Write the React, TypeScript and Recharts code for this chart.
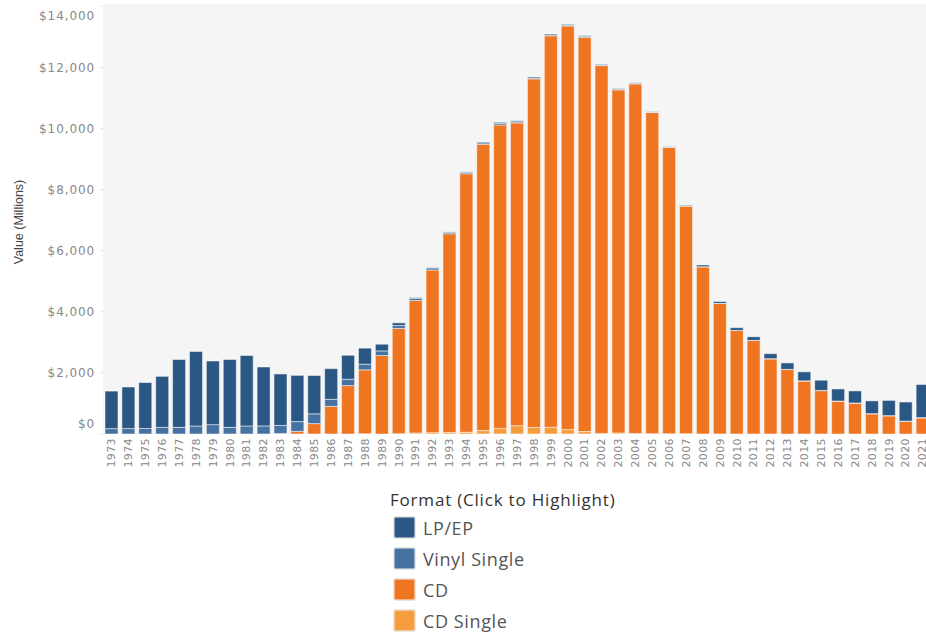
import React from 'react';
import { BarChart, Bar, XAxis, YAxis, CartesianGrid } from 'recharts';

const years = [
  '1973', '1974', '1975', '1976', '1977', '1978', '1979', '1980', '1981', '1982',
  '1983', '1984', '1985', '1986', '1987', '1988', '1989', '1990', '1991', '1992',
  '1993', '1994', '1995', '1996', '1997', '1998', '1999', '2000', '2001', '2002',
  '2003', '2004', '2005', '2006', '2007', '2008', '2009', '2010', '2011', '2012',
  '2013', '2014', '2015', '2016', '2017', '2018', '2019', '2020', '2021',
];

// values in millions of dollars
const lpEp = [
  1230, 1360, 1505, 1670, 2220, 2440, 2085, 2220, 2305, 1930,
  1685, 1515, 1255, 1005, 785, 527, 220, 87, 29, 14,
  11, 18, 25, 37, 33, 34, 32, 28, 27, 21,
  22, 19, 14, 16, 23, 57, 60, 89, 119, 164,
  211, 295, 335, 395, 395, 419, 498, 626, 1085,
];

const vinylSingle = [
  175, 178, 180, 218, 218, 262, 306, 218, 264, 264,
  264, 320, 320, 230, 208, 185, 150, 94, 64, 66,
  51, 47, 47, 48, 36, 26, 28, 26, 31, 25,
  22, 20, 13, 12, 4, 3, 3, 2, 5, 6,
  6, 6, 6, 5, 6, 6, 7, 6, 9,
];

const cd = [
  0, 0, 0, 0, 0, 0, 0, 0, 0, 0,
  17, 85, 340, 905, 1585, 2090, 2570, 3452, 4338, 5327,
  6511, 8465, 9377, 9935, 9915, 11416, 12816, 13215, 12909, 12044,
  11233, 11447, 10520, 9373, 7452, 5471, 4274, 3389, 3060, 2460,
  2110, 1735, 1420, 1075, 1010, 660, 595, 415, 527,
];

const cdSingle = [
  0, 0, 0, 0, 0, 0, 0, 0, 0, 0,
  0, 0, 0, 0, 0, 10, 0, 6, 35, 45,
  46, 56, 111, 184, 273, 213, 222, 143, 79, 20,
  36, 15, 11, 8, 12, 3, 3, 1, 0, 0,
  0, 0, 0, 0, 0, 0, 0, 0, 0,
];

const yTicks = [0, 2000, 4000, 6000, 8000, 10000, 12000, 14000];

const formats = [
  { key: 'lpEp', name: 'LP/EP', color: '#2a5783' },
  { key: 'vinylSingle', name: 'Vinyl Single', color: '#4572a1' },
  { key: 'cd', name: 'CD', color: '#ef7521' },
  { key: 'cdSingle', name: 'CD Single', color: '#f59d3d' },
];

const data = years.map((year, i) => ({
  year,
  lpEp: lpEp[i],
  vinylSingle: vinylSingle[i],
  cd: cd[i],
  cdSingle: cdSingle[i],
}));

const colorOf = (key: string) => formats.find((f) => f.key === key)!.color;

const tickFont = '"DejaVu Sans", sans-serif';

function YTick(props: any) {
  const { x, y, payload } = props;
  let dy = 4;
  if (payload.value === 0) dy = -6.5;
  if (payload.value === 14000) dy = 11;
  return (
    <text
      x={x}
      y={y}
      dy={dy}
      textAnchor="end"
      fill="#888"
      fontSize={12}
      fontFamily={tickFont}
      letterSpacing={0.9}
    >
      {'$' + payload.value.toLocaleString('en-US')}
    </text>
  );
}

function XTick(props: any) {
  const { x, y, payload } = props;
  return (
    <text
      x={x}
      y={y}
      dy="0.35em"
      transform={`rotate(-90 ${x} ${y})`}
      textAnchor="end"
      fill="#888"
      fontSize={11}
      fontFamily={tickFont}
      letterSpacing={0.4}
    >
      {payload.value}
    </text>
  );
}

export default function App() {
  const barStroke = 'rgba(255,255,255,0.5)';
  return (
    <div
      style={{
        position: 'fixed',
        left: 0,
        top: 0,
        width: 926,
        height: 633,
        overflow: 'hidden',
        background: '#fff',
      }}
    >
      <BarChart
        width={931}
        height={500}
        data={data}
        margin={{ top: 4, right: 0, left: 8, bottom: 0 }}
        barSize={13}
      >
        <CartesianGrid fill="#f5f5f5" stroke="none" horizontal={false} vertical={false} />
        <XAxis
          dataKey="year"
          interval={0}
          axisLine={false}
          tickLine={false}
          tickSize={0}
          tickMargin={4}
          height={66}
          tick={<XTick />}
        />
        <YAxis
          width={95}
          domain={[0, 14080]}
          ticks={yTicks}
          axisLine={false}
          tickLine={{ stroke: '#e2e2e2' }}
          tickSize={3}
          tickMargin={5}
          tick={<YTick />}
        />
        <Bar dataKey="cdSingle" name="CD Single" stackId="a" fill={colorOf('cdSingle')} stroke={barStroke} isAnimationActive={false} />
        <Bar dataKey="cd" name="CD" stackId="a" fill={colorOf('cd')} stroke={barStroke} isAnimationActive={false} />
        <Bar dataKey="vinylSingle" name="Vinyl Single" stackId="a" fill={colorOf('vinylSingle')} stroke={barStroke} isAnimationActive={false} />
        <Bar dataKey="lpEp" name="LP/EP" stackId="a" fill={colorOf('lpEp')} stroke={barStroke} isAnimationActive={false} />
      </BarChart>

      <div
        style={{
          position: 'absolute',
          left: 19,
          top: 222,
          transform: 'translate(-50%, -50%) rotate(-90deg)',
          whiteSpace: 'nowrap',
          fontFamily: 'Arial, "Liberation Sans", sans-serif',
          fontSize: 12.5,
          color: '#444',
        }}
      >
        Value (Millions)
      </div>

      <div
        style={{
          position: 'absolute',
          left: 390,
          top: 488,
          fontFamily: '"Open Sans", sans-serif',
          fontSize: 17,
          letterSpacing: 0.8,
          lineHeight: '24px',
          color: '#333',
          whiteSpace: 'nowrap',
        }}
      >
        Format (Click to Highlight)
      </div>
      {formats.map((f, i) => (
        <div
          key={f.key}
          style={{
            position: 'absolute',
            left: 394,
            top: 517 + i * 31,
            height: 21,
            display: 'flex',
            alignItems: 'center',
            whiteSpace: 'nowrap',
          }}
        >
          <div
            style={{
              width: 21,
              height: 21,
              flex: 'none',
              boxSizing: 'border-box',
              background: f.color,
              borderRadius: 2,
              border: '1px solid rgba(255,255,255,0.45)',
              boxShadow: '0 0 0 1px #e6e6e6',
            }}
          />
          <span
            style={{
              marginLeft: 8,
              fontFamily: '"Open Sans", sans-serif',
              fontSize: 18,
              letterSpacing: 0.6,
              color: '#555',
            }}
          >
            {f.name}
          </span>
        </div>
      ))}
    </div>
  );
}
